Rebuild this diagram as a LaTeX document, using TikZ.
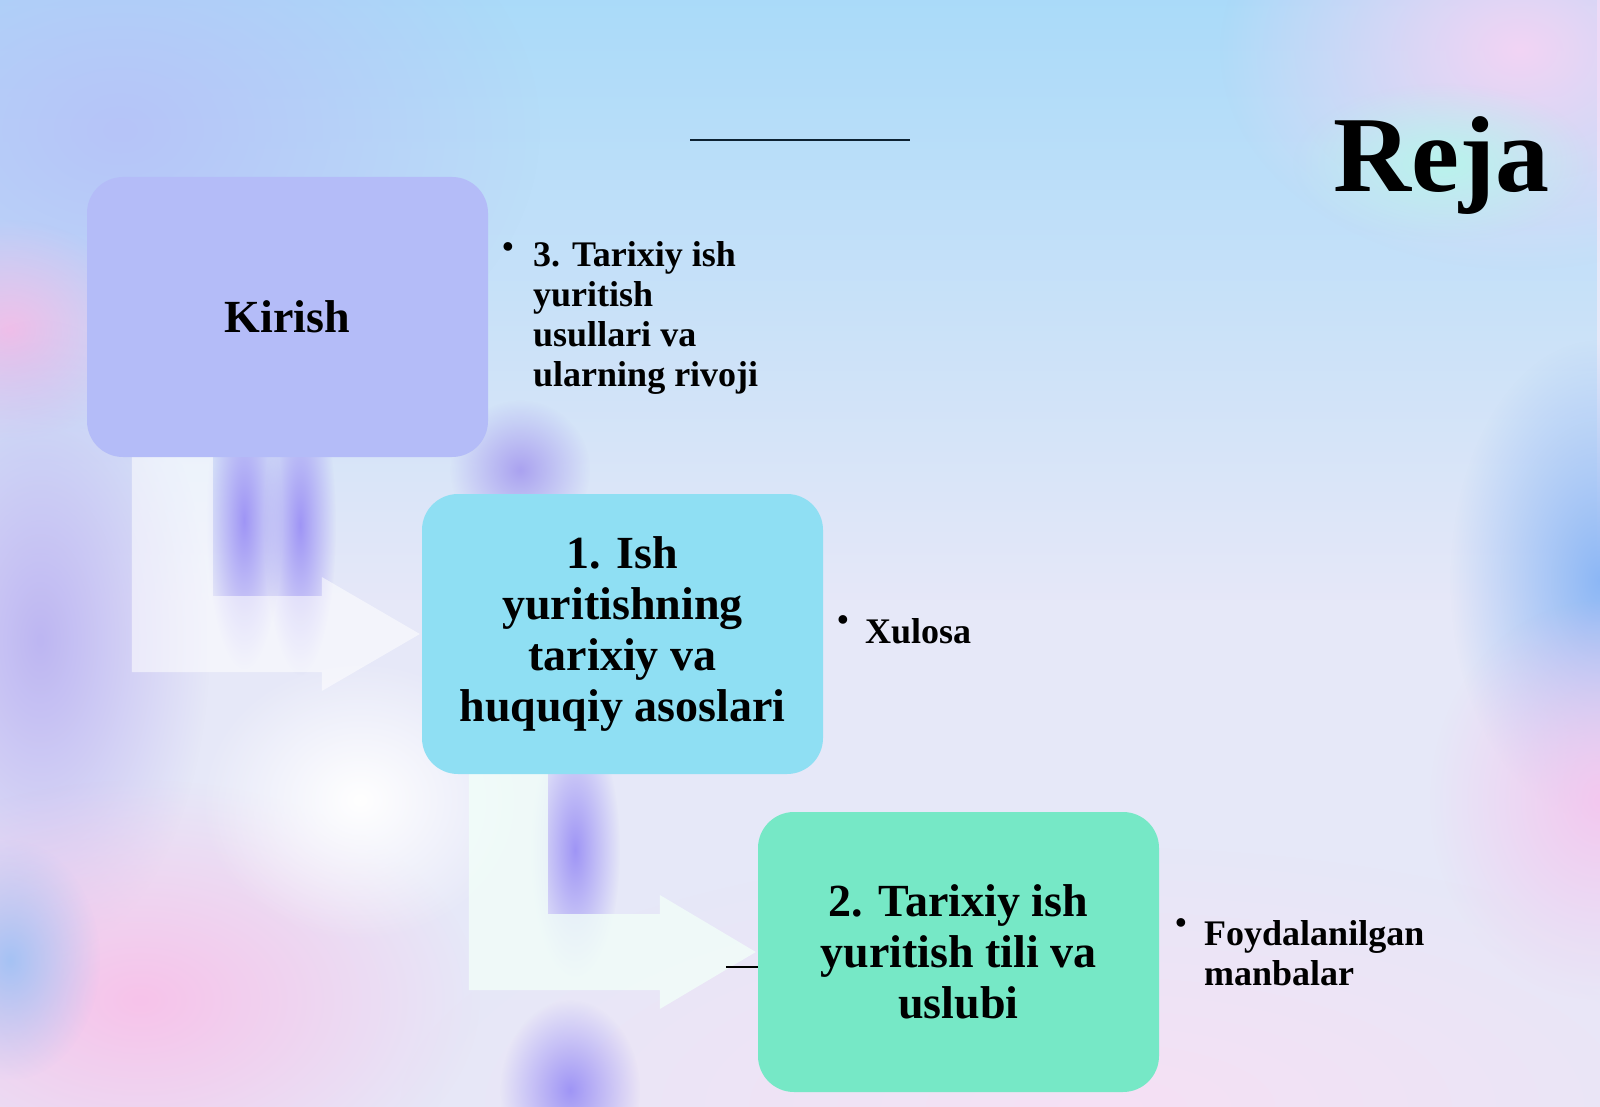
\documentclass[tikz,border=0pt]{standalone}
\usepackage{fontspec}
\setmainfont{Liberation Serif}
\usetikzlibrary{calc,fadings}
\pgfdeclarelayer{bg}
\pgfdeclarelayer{arr}
\pgfsetlayers{bg,arr,main}
\tikzfading[name=blob, inner color=transparent!0, outer color=transparent!100]
\definecolor{bgbase}{HTML}{E6E8F8}
\definecolor{topblue}{HTML}{A6DAFA}
\definecolor{tlLav}{HTML}{B6C4F8}
\definecolor{trPink}{HTML}{F2D4F4}
\definecolor{rBlue}{HTML}{8CB7F5}
\definecolor{rPink}{HTML}{F3C8EF}
\definecolor{lPink}{HTML}{F0BFE9}
\definecolor{lPurple}{HTML}{BDB6F2}
\definecolor{blPink}{HTML}{F7C3EA}
\definecolor{blBlue}{HTML}{A5C2F4}
\definecolor{stripe}{HTML}{9F95F5}
\definecolor{swirl}{HTML}{AAA2F0}
\definecolor{botPink}{HTML}{F6E0F4}
\definecolor{boxA}{HTML}{B4BCF8}
\definecolor{boxB}{HTML}{8FDFF3}
\definecolor{boxC}{HTML}{76E8C6}
\definecolor{linec}{HTML}{0D2233}
\definecolor{glowc}{HTML}{B8F4EC}
\definecolor{arrowB}{HTML}{F2FFF9}
\tikzset{
  blobfill/.style={fill=#1, path fading=blob},
  stepbox/.style={rectangle, rounded corners=36pt, minimum width=401pt, minimum height=280pt,
    inner sep=0pt, align=center, text=black, font=\bfseries\fontsize{46}{51}\selectfont},
  bultext/.style={anchor=west, align=left, inner sep=0pt, text=black,
    font=\bfseries\fontsize{36}{40}\selectfont},
  bulletdot/.style={inner sep=0pt, text=black, font=\bfseries\fontsize{32}{32}\selectfont},
  rejastyle/.style={anchor=base west, inner sep=0pt, font=\bfseries\fontsize{108}{108}\selectfont},
  flowarrowA/.style={fill=white, fill opacity=0.55},
  flowarrowB/.style={fill=arrowB, fill opacity=0.78},
  topline/.style={line width=2.2pt, draw=linec},
  stubline/.style={line width=1.6pt, draw=black}
}
\begin{document}
\begin{tikzpicture}[x=1pt,y=-1pt]
\useasboundingbox (0,0) rectangle (1600,1107);

% ---------- background ----------
\begin{pgfonlayer}{bg}
\fill[bgbase] (0,0) rectangle (1600,1107);
\fill[topblue, path fading=south] (0,-40) rectangle (1600,600);
\fill[blobfill=tlLav] (120,130) ellipse [x radius=420pt, y radius=300pt];
\fill[blobfill=trPink] (1520,50) ellipse [x radius=300pt, y radius=220pt];
\fill[blobfill=rBlue] (1600,580) ellipse [x radius=150pt, y radius=240pt];
\fill[blobfill=rPink] (1600,800) ellipse [x radius=170pt, y radius=200pt];
\fill[blobfill=botPink] (1100,1107) ellipse [x radius=700pt, y radius=260pt];
\fill[blobfill=lPink] (10,330) ellipse [x radius=130pt, y radius=110pt];
\fill[blobfill=lPurple] (40,640) ellipse [x radius=170pt, y radius=320pt];
\fill[blobfill=blPink] (140,1000) ellipse [x radius=340pt, y radius=220pt];
\fill[blobfill=blBlue] (10,960) ellipse [x radius=90pt, y radius=120pt];
\fill[blobfill=stripe] (244,520) ellipse [x radius=38pt, y radius=150pt];
\fill[blobfill=stripe] (300,525) ellipse [x radius=36pt, y radius=150pt];
\fill[blobfill=swirl] (520,470) ellipse [x radius=70pt, y radius=70pt];
\fill[blobfill=stripe] (575,850) ellipse [x radius=45pt, y radius=130pt];
\fill[blobfill=stripe] (570,1090) ellipse [x radius=70pt, y radius=90pt];
\fill[blobfill=white] (360,800) ellipse [x radius=160pt, y radius=140pt];
\fill[blobfill=glowc] (1443,163) ellipse [x radius=150pt, y radius=80pt];
\end{pgfonlayer}

% ---------- boxes ----------
\node[stepbox, fill=boxA] (kirish) at (287.5,317) {Kirish};
\node[stepbox, fill=boxB] (box1) at (622.5,634) {1. Ish\\yuritishning\\tarixiy va\\huquqiy asoslari};
\node[stepbox, fill=boxC] (box2) at (958.5,952) {2. Tarixiy ish\\yuritish tili va\\uslubi};

% ---------- bent arrows ----------
\begin{pgfonlayer}{arr}
\fill[flowarrowA] ($(kirish.south west)+(45,-12)$) -- ($(kirish.south west)+(126,-12)$)
  |- ($(box1.west)+(-100,-38)$) -- ($(box1.west)+(-100,-57)$) -- ($(box1.west)+(-2,0)$)
  -- ($(box1.west)+(-100,57)$) -- ($(box1.west)+(-100,38)$)
  -| ($(kirish.south west)+(45,-12)$) -- cycle;
\fill[flowarrowB] ($(box1.south west)+(47,-12)$) -- ($(box1.south west)+(126,-12)$)
  |- ($(box2.west)+(-98,-38)$) -- ($(box2.west)+(-98,-57)$) -- ($(box2.west)+(-2,0)$)
  -- ($(box2.west)+(-98,57)$) -- ($(box2.west)+(-98,38)$)
  -| ($(box1.south west)+(47,-12)$) -- cycle;
\end{pgfonlayer}

% stray connector stub at box 2
\coordinate (stub) at ($(box2.west)+(-32,15)$);
\draw[stubline] (stub) -- (stub -| box2.west);

% top line
\coordinate (tl1) at (690,140);
\coordinate (tl2) at (910,140);
\draw[topline] (tl1) -- (tl2);

% ---------- title ----------
\node[rejastyle, text=black] (reja) at (1333,192) {Reja};

% ---------- bullet texts ----------
\node[bultext] (t3) at (533,318) {3. Tarixiy ish\\yuritish\\usullari va\\ularning rivoji};
\node[bulletdot] (d3) at (508,250) {•};

\node[bultext] (tx) at (865,631) {Xulosa};
\node[bulletdot] (dx) at (843,623) {•};

\node[bultext] (tf) at (1204,953) {Foydalanilgan\\manbalar};
\node[bulletdot] (df) at (1181,926) {•};
\end{tikzpicture}
\end{document}
